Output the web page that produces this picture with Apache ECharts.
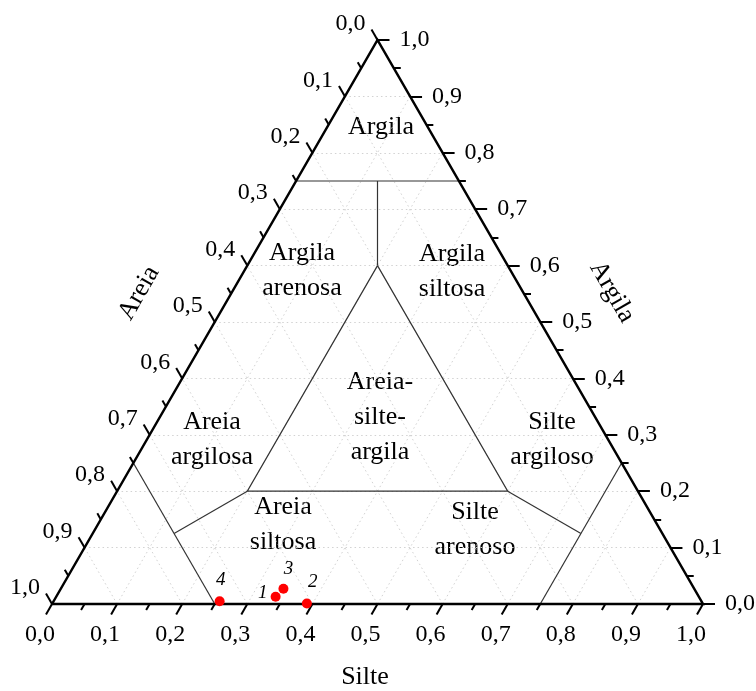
<!DOCTYPE html>
<html>
<head>
<meta charset="utf-8">
<script src="https://cdn.jsdelivr.net/npm/echarts@6/dist/echarts.min.js"></script>
<style>
html, body { margin: 0; padding: 0; background: #fff; }
#chart { width: 756px; height: 691px; }
</style>
</head>
<body>
<div id="chart"></div>
<script>
// amostras: frações de silte, argila e areia
const sampleNames = ['1', '2', '3', '4']
const silte = [0.337, 0.391, 0.342, 0.255]
const argila = [0.013, 0.001, 0.027, 0.005]
const areia = [0.650, 0.608, 0.631, 0.740]

// eixos
const majorTicks = [0, 0.1, 0.2, 0.3, 0.4, 0.5, 0.6, 0.7, 0.8, 0.9, 1.0]
const minorTicks = [0.05, 0.15, 0.25, 0.35, 0.45, 0.55, 0.65, 0.75, 0.85, 0.95]
const tickLabels = ['0,0', '0,1', '0,2', '0,3', '0,4', '0,5', '0,6', '0,7', '0,8', '0,9', '1,0']
const gridSteps = [0.1, 0.2, 0.3, 0.4, 0.5, 0.6, 0.7, 0.8, 0.9]

// limites das classes (pares [silte, argila])
const boundaries = [
    [[0, 0.75], [0.25, 0.75]],
    [[0.125, 0.75], [0.2, 0.6]],
    [[0.2, 0.6], [0.2, 0.2], [0.6, 0.2], [0.2, 0.6]],
    [[0.2, 0.2], [0.125, 0.125]],
    [[0, 0.25], [0.25, 0]],
    [[0.6, 0.2], [0.75, 0.125]],
    [[0.75, 0.25], [0.75, 0]]
]

const classNames = [
    'Argila', 'Argila\narenosa', 'Argila\nsiltosa', 'Areia-\nsilte-\nargila',
    'Areia\nargilosa', 'Silte\nargiloso', 'Areia\nsiltosa', 'Silte\narenoso'
]

const H = Math.sqrt(3) / 2
const GRID = { left: 52, top: 40, width: 651, height: 564 }
const SERIF = '"Liberation Serif", "Times New Roman", serif'

// ternário -> cartesiano
function toXY(s, c) {
    return [s + c / 2, c * H]
}
function move(p, dx, dy, len) {
    const k = len / GRID.width
    return [p[0] + dx * k, p[1] + dy * k]
}

// linhas de grade pontilhadas
const gridLines = []
gridSteps.forEach(v => {
    gridLines.push({ coords: [toXY(0, v), toXY(1 - v, v)] })
    gridLines.push({ coords: [toXY(v, 0), toXY(v, 1 - v)] })
    gridLines.push({ coords: [toXY(1 - v, 0), toXY(0, 1 - v)] })
})

// marcas dos eixos
const tickLines = []
const tickLabelData = []
function addTicks(values, len, withLabels) {
    values.forEach((v, i) => {
        const b = toXY(v, 0)
        const l = toXY(0, 1 - v)
        const r = toXY(1 - v, v)
        tickLines.push({ coords: [b, move(b, -0.5, -H, len)] })
        tickLines.push({ coords: [l, move(l, -0.5, H, len)] })
        tickLines.push({ coords: [r, move(r, 1, 0, len)] })
        if (withLabels) {
            tickLabelData.push({ value: b, name: tickLabels[i], label: { offset: [-12, 31] } })
            tickLabelData.push({ value: l, name: tickLabels[i], label: { offset: [-27, -16] } })
            tickLabelData.push({ value: r, name: tickLabels[i], label: { offset: [37, 0] } })
        }
    })
}
addTicks(majorTicks, 12, true)
addTicks(minorTicks, 7, false)

const border = [{ coords: [toXY(0, 0), toXY(1, 0), toXY(0, 1), toXY(0, 0)] }]

const labelPlace = {
    '1': { position: 'left', offset: [1, -4] },
    '2': { position: 'top', offset: [6, -3] },
    '3': { position: 'top', offset: [5, -1] },
    '4': { position: 'top', offset: [1, -3] }
}
const samples = sampleNames.map((n, i) => ({
    name: n,
    value: toXY(silte[i], argila[i]).concat([areia[i]]),
    label: labelPlace[n]
}))

// posições dos rótulos de classe (px)
const classPos = [
    [381, 127], [302, 271], [452, 272], [380, 417],
    [212, 440], [552, 440], [283, 525], [475, 530]
]

const chart = echarts.init(document.getElementById('chart'))
const option = {
    backgroundColor: '#fff',
    animation: false,
    grid: { left: GRID.left, top: GRID.top, width: GRID.width, height: GRID.height },
    xAxis: { type: 'value', min: 0, max: 1, show: false },
    yAxis: { type: 'value', min: 0, max: H, show: false },
    series: [
        {
            type: 'lines', coordinateSystem: 'cartesian2d', clip: false, silent: true,
            data: gridLines,
            lineStyle: { color: '#d2d2d2', width: 1, type: [1.5, 3], opacity: 1 }
        },
        {
            type: 'lines', coordinateSystem: 'cartesian2d', polyline: true, clip: false, silent: true,
            data: boundaries.map(b => ({ coords: b.map(p => toXY(p[0], p[1])) })),
            lineStyle: { color: '#333', width: 1.2, opacity: 1 }
        },
        {
            type: 'lines', coordinateSystem: 'cartesian2d', clip: false, silent: true,
            data: tickLines,
            lineStyle: { color: '#000', width: 2, opacity: 1, cap: 'butt' }
        },
        {
            type: 'lines', coordinateSystem: 'cartesian2d', polyline: true, clip: false, silent: true,
            data: border,
            lineStyle: { color: '#000', width: 2.5, opacity: 1, join: 'miter' }
        },
        {
            type: 'scatter', clip: false, silent: true, symbolSize: 0,
            itemStyle: { opacity: 1 },
            data: tickLabelData,
            label: {
                show: true, position: 'inside', formatter: p => p.name,
                color: '#000', opacity: 1, fontSize: 24, fontFamily: SERIF
            }
        },
        {
            type: 'scatter', clip: false, symbol: 'circle', symbolSize: 10,
            itemStyle: { color: '#f00', opacity: 1 },
            data: samples,
            label: {
                show: true, formatter: p => p.name, distance: 4, opacity: 1,
                color: '#000', fontSize: 19, fontStyle: 'italic', fontFamily: SERIF
            }
        }
    ],
    graphic: classNames.map((t, i) => ({
        type: 'text', x: classPos[i][0], y: classPos[i][1], silent: true,
        style: {
            text: t, fill: '#000', font: '26px ' + SERIF,
            align: 'center', verticalAlign: 'middle', lineHeight: 35
        }
    })).concat([
        {
            type: 'text', x: 365, y: 677, silent: true,
            style: { text: 'Silte', fill: '#000', font: '26px ' + SERIF, align: 'center', verticalAlign: 'middle' }
        },
        {
            type: 'text', x: 139, y: 293, rotation: Math.PI / 3, silent: true,
            style: { text: 'Areia', fill: '#000', font: '26px ' + SERIF, align: 'center', verticalAlign: 'middle' }
        },
        {
            type: 'text', x: 612, y: 292, rotation: -Math.PI / 3, silent: true,
            style: { text: 'Argila', fill: '#000', font: '26px ' + SERIF, align: 'center', verticalAlign: 'middle' }
        }
    ])
}
chart.setOption(option)
</script>
</body>
</html>
